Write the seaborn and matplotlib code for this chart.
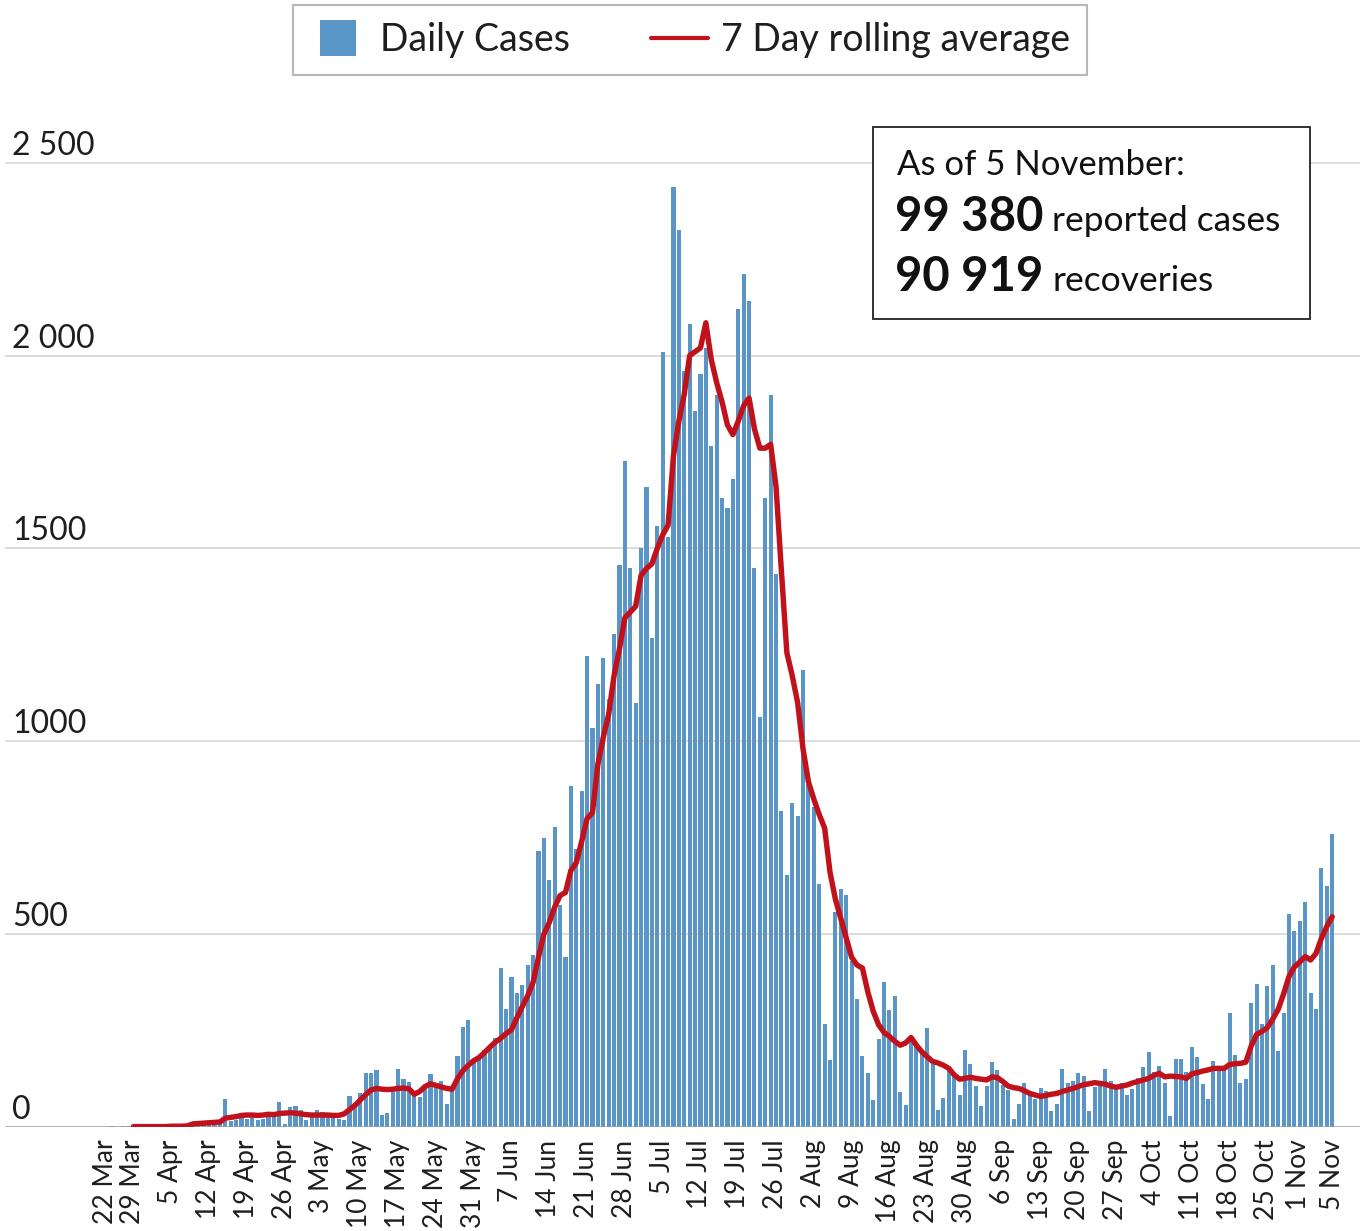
import numpy as np
import pandas as pd
import matplotlib
matplotlib.use("Agg")
import matplotlib.pyplot as plt
import matplotlib.transforms as mtransforms
from matplotlib.lines import Line2D
from matplotlib.patches import Rectangle
import seaborn as sns

# ---------------- data ----------------
start_date = "2020-03-22"
daily_cases = [
    1, 0, 2, 1, 3, 2, 4,
    2, 1, 3, 1, 2, 4, 2, 3, 1, 5,
    12, 8, 15, 10, 14, 18,
    72,
    15, 18, 28, 22, 25, 18, 20, 30, 38,
    66, 8, 53, 55, 45, 18, 30, 45, 40, 35, 31, 22, 18,
    80, 62, 89, 141, 141, 149, 31, 36,
    100, 150, 124, 117, 88, 79, 105, 137, 115, 119,
    60, 96, 184, 260, 277, 174, 182, 200, 213, 230,
    413, 306, 390, 347, 368, 420, 445,
    715, 750, 640, 779, 576, 442, 884, 721, 872,
    1221, 1035, 1148, 1217, 1110, 1279, 1457, 1727, 1448, 1099,
    1500, 1659, 1267, 1558, 2008, 1530, 2438, 2325, 1959, 2081,
    1857, 1951, 2020, 1765, 1899, 1630, 1606, 1679, 2122, 2211,
    2141, 1448, 1062, 1630, 1898, 1435, 818, 653, 840, 807,
    1185, 888, 830, 629, 267, 175, 558, 618, 601, 430,
    332, 184, 141, 69, 228, 375, 304, 339, 91, 58,
    220, 211, 194, 257, 164, 44, 75, 147, 134, 82,
    200, 163, 106, 54, 106, 169, 148, 109, 96, 20,
    60, 115, 83, 72, 102, 94, 41, 60, 150, 113,
    119, 141, 132, 42, 103, 106, 150, 118, 100, 115,
    83, 99, 128, 156, 195, 143, 158, 113, 29, 176,
    176, 143, 208, 182, 111, 72, 172, 147, 156, 296,
    187, 115, 124, 321, 371, 267, 366, 420, 198, 295,
    552, 509, 535, 584, 347, 305, 671, 625, 760,
]

avg_start_date = "2020-03-28"
rolling_avg = [
    1, 1, 1, 1, 1, 1, 1, 2, 2, 2, 3,
    8, 9, 10, 11, 12, 13,
    23, 25, 27, 30, 31, 31, 30, 31, 33, 32,
    35, 36, 37, 36, 34, 32, 31, 31, 31, 31, 30, 30,
    34, 45, 56, 70, 84, 96, 100, 98, 97, 98, 100, 101,
    99, 85, 92, 105, 112, 108, 104, 100, 98, 125,
    146, 160, 172, 180, 193, 207, 220, 230, 242, 252,
    283, 312, 340, 375, 440, 500, 530, 570, 600, 608,
    665, 685, 740, 800, 815, 940, 1010, 1070, 1170, 1240,
    1320, 1335, 1350, 1430, 1448, 1460, 1500, 1535, 1560, 1740,
    1830, 1900, 2000, 2010, 2020, 2085, 1990, 1930, 1880, 1820,
    1795, 1830, 1870, 1890, 1810, 1760, 1760, 1770, 1660, 1440,
    1230, 1170, 1100, 980, 895, 850, 810, 775, 660, 590,
    540, 490, 440, 420, 412, 350, 300, 265, 245, 235,
    222, 212, 218, 232, 212, 195, 182, 170, 166, 160,
    152, 135, 124, 126, 129, 126, 124, 122, 130, 128,
    118, 106, 102, 100, 94, 87, 83, 79, 82, 85,
    87, 92, 96, 100, 105, 110, 112, 115, 113, 111,
    106, 103, 106, 109, 114, 118, 122, 126, 134, 139,
    130, 132, 131, 130, 126, 138, 141, 145, 148, 152,
    152, 152, 162, 164, 165, 168, 210, 240, 248, 258,
    280, 305, 345, 390, 415, 428, 442, 433, 450, 489, 520, 545,
]

tick_dates = [
    "2020-03-22", "2020-03-29", "2020-04-05", "2020-04-12", "2020-04-19",
    "2020-04-26", "2020-05-03", "2020-05-10", "2020-05-17", "2020-05-24",
    "2020-05-31", "2020-06-07", "2020-06-14", "2020-06-21", "2020-06-28",
    "2020-07-05", "2020-07-12", "2020-07-19", "2020-07-26", "2020-08-02",
    "2020-08-09", "2020-08-16", "2020-08-23", "2020-08-30", "2020-09-06",
    "2020-09-13", "2020-09-20", "2020-09-27", "2020-10-04", "2020-10-11",
    "2020-10-18", "2020-10-25", "2020-11-01", "2020-11-05",
]
tick_labels = [
    "22 Mar", "29 Mar", "5 Apr", "12 Apr", "19 Apr", "26 Apr", "3 May",
    "10 May", "17 May", "24 May", "31 May", "7 Jun", "14 Jun", "21 Jun",
    "28 Jun", "5 Jul", "12 Jul", "19 Jul", "26 Jul", "2 Aug", "9 Aug",
    "16 Aug", "23 Aug", "30 Aug", "6 Sep", "13 Sep", "20 Sep", "27 Sep",
    "4 Oct", "11 Oct", "18 Oct", "25 Oct", "1 Nov", "5 Nov",
]
y_ticks = [0, 500, 1000, 1500, 2000, 2500]
y_tick_labels = ["0", "500", "1000", "1500", "2 000", "2 500"]
legend_labels = ["Daily Cases", "7 Day rolling average"]
note_title = "As of 5 November:"
note_values = ["99 380", "90 919"]
note_units = ["reported cases", "recoveries"]

# ---------------- style ----------------
BLUE = "#5a95c8"
RED = "#c1121c"
TXT = "#1e1e1e"
W, H = 1367, 1231

sns.set_style("white")
plt.rcParams["font.family"] = ["Lato", "DejaVu Sans"]

fig = plt.figure(figsize=(W / 100, H / 100), dpi=100)
ax = fig.add_axes([5 / W, 1 - 1127 / H, (1360 - 5) / W, (1127 - 128) / H])

t0 = pd.Timestamp(start_date)
days = (pd.date_range(start_date, periods=len(daily_cases)) - t0).days
df = pd.DataFrame({"day": np.asarray(days), "cases": daily_cases})
avg_days = (pd.date_range(avg_start_date, periods=len(rolling_avg)) - t0).days
df_avg = pd.DataFrame({"day": np.asarray(avg_days), "avg": rolling_avg})

sns.barplot(data=df, x="day", y="cases", native_scale=True, color=BLUE,
            saturation=1, width=0.76, errorbar=None, linewidth=0, ax=ax)
sns.lineplot(data=df_avg, x="day", y="avg", color=RED, linewidth=3.9,
             errorbar=None, ax=ax, zorder=5,
             solid_joinstyle="round", solid_capstyle="round")

for v in y_ticks[1:]:
    ax.axhline(v, color="#8a8a8a", alpha=0.38, lw=1.1, zorder=2)
ax.axhline(0, color="#9c9c9c", lw=1.8, zorder=3)

ax.set_xlim(-17.8, 233.15)
ax.set_ylim(0, 2590)
for s in ax.spines.values():
    s.set_visible(False)
ax.set_xlabel("")
ax.set_ylabel("")
ax.set_yticks([])

tick_pos = (pd.to_datetime(tick_dates) - t0).days
ax.set_xticks(np.asarray(tick_pos))
ax.set_xticklabels(tick_labels, rotation=90, fontsize=19, color=TXT)
ax.tick_params(axis="x", length=0, pad=9)
offsets_px = [-6] * len(tick_labels)
offsets_px[0] = 4
offsets_px[-2] = -12
offsets_px[-1] = 0
for lbl, off in zip(ax.get_xticklabels(), offsets_px):
    lbl.set_transform(lbl.get_transform()
                      + mtransforms.ScaledTranslation(off / 100, 0, fig.dpi_scale_trans))

for v, s in zip(y_ticks, y_tick_labels):
    ax.annotate(s, xy=(0, v), xycoords=ax.get_yaxis_transform(),
                xytext=(7 * 0.72, 8 * 0.72), textcoords="offset points",
                ha="left", va="baseline", fontsize=23, color=TXT, zorder=6)

# legend
handles = [
    Line2D([], [], marker="s", markersize=26.5, linestyle="none",
           color=BLUE, markeredgewidth=0),
    Line2D([], [], color=RED, lw=3),
]
leg = fig.legend(handles, legend_labels, loc="upper center",
                 bbox_to_anchor=(690 / W, 1 - 5 / H), ncol=2, fontsize=27,
                 frameon=True, fancybox=False, edgecolor="#b8b8b8",
                 framealpha=1, handlelength=1.52, handletextpad=0.36,
                 columnspacing=2.15, borderpad=0.45, borderaxespad=0)
leg.get_frame().set_linewidth(1.5)
for t in leg.get_texts():
    t.set_color(TXT)

# annotation box
fig.add_artist(Rectangle((873 / W, 1 - 319 / H), (1310 - 873) / W, (319 - 127) / H,
                         transform=fig.transFigure, facecolor="white",
                         edgecolor="#222222", lw=1.3, zorder=7))
fig.text(897 / W, 1 - 175 / H, note_title, fontsize=25, va="baseline",
         color="#111111", zorder=8)
renderer = fig.canvas.get_renderer()
for val, unit, base in zip(note_values, note_units, [231, 291]):
    t = fig.text(895 / W, 1 - base / H, val, fontsize=34, fontweight="bold",
                 va="baseline", color="#111111", zorder=8)
    bb = t.get_window_extent(renderer)
    fig.text((bb.x1 + 9) / W, 1 - base / H, unit, fontsize=25.5,
             va="baseline", color="#111111", zorder=8)

fig.savefig("out.png", dpi=100)
